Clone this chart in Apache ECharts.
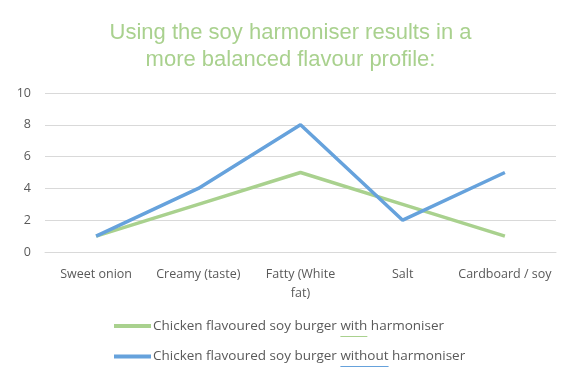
<!DOCTYPE html>
<html><head><meta charset="utf-8">
<script src="https://cdn.jsdelivr.net/npm/echarts@6/dist/echarts.min.js"></script>
<style>html,body{margin:0;padding:0;background:#fff}#c{width:581px;height:388px}</style>
</head><body><div id="c"></div>
<script>
var categories = ['Sweet onion', 'Creamy (taste)', 'Fatty (White\nfat)', 'Salt', 'Cardboard / soy'];
var withHarmoniser = [1, 3, 5, 3, 1];
var withoutHarmoniser = [1, 4, 8, 2, 5];
var seriesNames = ['Chicken flavoured soy burger with harmoniser', 'Chicken flavoured soy burger without harmoniser'];
var underlined = ['with', 'without'];
var titleText = 'Using the soy harmoniser results in a\nmore balanced flavour profile:';

var GREEN = '#A9D18E', BLUE = '#66A2DC';
var font = 'Open Sans';
var legendFontSize = 13.5;
var legendLeft = 114, legendTop = 319, iconW = 37, iconGap = 2, itemGap = 16.5;

// measure text to place underline decorations under the words "with"/"without"
var ctx = document.createElement('canvas').getContext('2d');
ctx.font = legendFontSize + 'px "' + font + '"';
var prefix = 'Chicken flavoured soy burger ';
var textStart = legendLeft + iconW + iconGap;
var rowH = legendFontSize;
var graphics = underlined.map(function (w, i) {
  var x1 = textStart + ctx.measureText(prefix).width;
  var x2 = x1 + ctx.measureText(w).width;
  var y = Math.round(legendTop + i * (rowH + itemGap) + rowH / 2 + 10) + 0.5;
  return {type: 'line', shape: {x1: x1, y1: y, x2: x2, y2: y},
          style: {stroke: i === 0 ? GREEN : BLUE, lineWidth: 1}};
});

var chart = echarts.init(document.getElementById('c'), null, {renderer: 'canvas'});
chart.setOption({
  animation: false,
  backgroundColor: '#ffffff',
  title: {
    text: titleText, left: 'center', top: 14,
    textStyle: {color: GREEN, fontFamily: 'Liberation Sans', fontSize: 22, fontWeight: 'normal', lineHeight: 27}
  },
  grid: {left: 45, right: 25, top: 93, bottom: 136},
  xAxis: {
    type: 'category', data: categories, boundaryGap: true,
    axisLine: {show: true, lineStyle: {color: '#D9D9D9'}},
    axisTick: {show: false},
    axisLabel: {color: '#595959', fontFamily: font, fontSize: 12.5, margin: 13, lineHeight: 19, interval: 0}
  },
  yAxis: {
    type: 'value', min: 0, max: 10, interval: 2,
    axisLine: {show: false}, axisTick: {show: false},
    splitLine: {lineStyle: {color: '#D9D9D9', width: 1}},
    axisLabel: {color: '#595959', fontFamily: font, fontSize: 12.5, margin: 14}
  },
  legend: {
    orient: 'vertical', left: legendLeft, top: legendTop, itemGap: itemGap, padding: 0,
    itemWidth: iconW, itemHeight: 4, icon: 'rect',
    textStyle: {color: '#595959', fontFamily: font, fontSize: legendFontSize, padding: [0, 0, 0, iconGap - 5]},
    data: seriesNames
  },
  series: [
    {name: seriesNames[0], type: 'line', data: withHarmoniser, symbol: 'none',
     lineStyle: {color: GREEN, width: 3.5}, itemStyle: {color: GREEN}},
    {name: seriesNames[1], type: 'line', data: withoutHarmoniser, symbol: 'none',
     lineStyle: {color: BLUE, width: 3.5}, itemStyle: {color: BLUE}}
  ],
  graphic: graphics
});
</script></body></html>
